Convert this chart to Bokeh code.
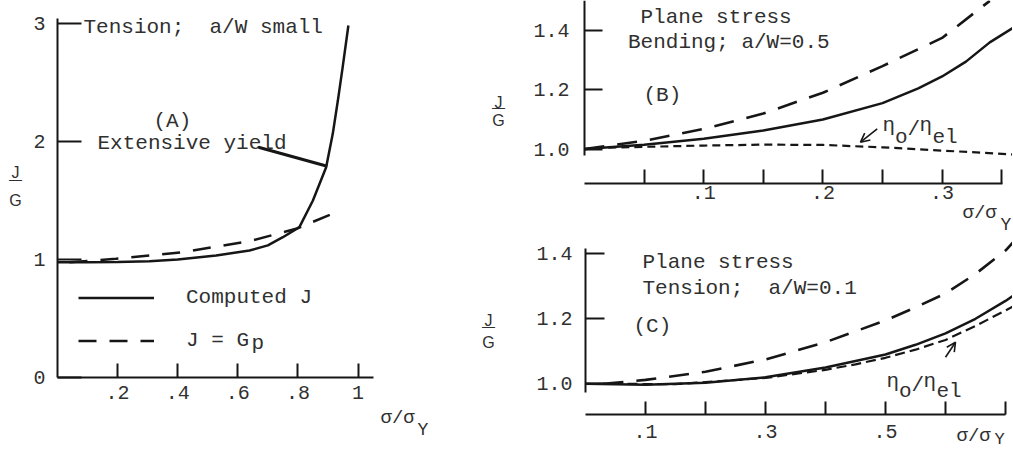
from bokeh.plotting import figure
from bokeh.layouts import row, column
from bokeh.models import Range1d, FixedTicker, Label, Arrow, OpenHead, Legend, LegendItem
from bokeh.embed import file_html
from bokeh.resources import INLINE

# ---------------- data ----------------
# (A) Tension; a/W small
a_solid_x = [0, 0.1, 0.2, 0.306, 0.4, 0.528, 0.639, 0.7, 0.75, 0.805, 0.85, 0.894, 0.916, 0.933, 0.949, 0.968]
a_solid_y = [0.977, 0.977, 0.978, 0.986, 1.0, 1.034, 1.076, 1.12, 1.189, 1.274, 1.50, 1.782, 2.065, 2.347, 2.63, 2.983]
a_gp_x = [0.04, 0.195, 0.417, 0.639, 0.794, 0.927]
a_gp_y = [0.977, 1.006, 1.062, 1.155, 1.26, 1.40]
a_x_ticks = [0.2, 0.4, 0.6, 0.8, 1.0]
a_x_labels = [".2", ".4", ".6", ".8", "1"]
a_y_ticks = [0, 1, 2, 3]
a_y_labels = ["0", "1", "2", "3"]

# (B) Plane stress, Bending; a/W=0.5
b_solid_x = [0, 0.05, 0.1, 0.15, 0.2, 0.25, 0.28, 0.3, 0.32, 0.34, 0.36]
b_solid_y = [1.0, 1.015, 1.035, 1.063, 1.10, 1.155, 1.205, 1.245, 1.295, 1.36, 1.41]
b_gp_x = [0, 0.05, 0.1, 0.15, 0.2, 0.25, 0.3, 0.34]
b_gp_y = [1.0, 1.028, 1.068, 1.12, 1.19, 1.28, 1.375, 1.50]
b_eta_x = [0.02, 0.1, 0.15, 0.2, 0.25, 0.3, 0.36]
b_eta_y = [1.005, 1.012, 1.015, 1.014, 1.006, 0.995, 0.982]
b_x_ticks = [0.05, 0.1, 0.15, 0.2, 0.25, 0.3, 0.35]
b_x_labels = ["", ".1", "", ".2", "", ".3", ""]
b_y_ticks = [1.0, 1.2, 1.4]
b_y_labels = ["1.0", "1.2", "1.4"]

# (C) Plane stress, Tension; a/W=0.1
c_solid_x = [0, 0.1, 0.2, 0.3, 0.4, 0.5, 0.55, 0.6, 0.65, 0.7, 0.72]
c_solid_y = [1.0, 0.997, 1.003, 1.02, 1.05, 1.09, 1.12, 1.155, 1.20, 1.255, 1.28]
c_gp_x = [0.03, 0.1, 0.2, 0.3, 0.4, 0.5, 0.55, 0.6, 0.65, 0.7, 0.72]
c_gp_y = [1.0, 1.012, 1.037, 1.075, 1.128, 1.195, 1.235, 1.278, 1.338, 1.41, 1.45]
c_eta_x = [0.02, 0.15, 0.3, 0.4, 0.45, 0.5, 0.55, 0.6, 0.65, 0.72]
c_eta_y = [1.0, 0.999, 1.018, 1.043, 1.06, 1.08, 1.105, 1.135, 1.178, 1.245]
c_x_ticks = [0.1, 0.2, 0.3, 0.4, 0.5, 0.6, 0.7]
c_x_labels = [".1", "", ".3", "", ".5", "", ""]
c_y_ticks = [1.0, 1.2, 1.4]
c_y_labels = ["1.0", "1.2", "1.4"]

# ---------------- style ----------------
INK = "#161616"
TXT = "#303030"
MONO = "Liberation Mono"
SANS = "Liberation Sans"
NB = "\u00a0"


class Panel:
    """A figure whose frame fills the whole canvas; axes are drawn at fixed data locations."""

    def __init__(self, cx, cy, width, height, sx0, xpu, sy_ref, y_ref, ypu):
        self.cx, self.cy = cx, cy
        self.xpu, self.ypu = xpu, ypu
        self.x_start = -(sx0 - cx) / xpu
        self.y_end = y_ref + (sy_ref - cy) / ypu
        x_end = self.x_start + width / xpu
        y_start = self.y_end - height / ypu
        p = figure(width=width, height=height, output_backend="svg", toolbar_location=None, tools="",
                   x_range=Range1d(self.x_start, x_end), y_range=Range1d(y_start, self.y_end),
                   min_border=0, min_border_left=0, min_border_right=0,
                   min_border_top=0, min_border_bottom=0)
        p.outline_line_color = None
        p.xgrid.visible = False
        p.ygrid.visible = False
        p.background_fill_color = "white"
        p.border_fill_color = "white"
        self.p = p

    def mx(self, sx):
        return self.x_start + (sx - self.cx) / self.xpu

    def my(self, sy):
        return self.y_end - (sy - self.cy) / self.ypu

    def axis(self, ax, ticks, labels, tick_in, standoff, bounds, fixed, size="20px"):
        ax.fixed_location = fixed
        ax.ticker = FixedTicker(ticks=ticks)
        ax.major_label_overrides = dict(zip(ticks, labels))
        ax.bounds = bounds
        ax.axis_line_color = INK
        ax.axis_line_width = 2
        ax.major_tick_line_color = INK
        ax.major_tick_line_width = 2
        ax.major_tick_in = tick_in
        ax.major_tick_out = 0
        ax.minor_tick_line_color = None
        ax.major_label_standoff = standoff
        ax.major_label_text_font = MONO
        ax.major_label_text_font_size = size
        ax.major_label_text_color = TXT

    def txt(self, sx, sy, text, size="21px", font=MONO, align="left", baseline="alphabetic"):
        self.p.add_layout(Label(x=self.mx(sx), y=self.my(sy), text=text, text_font=font,
                                text_font_size=size, text_color=TXT, text_align=align,
                                text_baseline=baseline))

    def arrow(self, x0, y0, x1, y1, width=1.6, head=True):
        end = OpenHead(size=9, line_width=width, line_color=INK) if head else None
        self.p.add_layout(Arrow(x_start=self.mx(x0), y_start=self.my(y0), x_end=self.mx(x1),
                                y_end=self.my(y1), end=end, line_color=INK, line_width=width))

    def jg(self, sx, sj, sbar, sg, size="16px"):
        self.txt(sx, sj, "J", size=size, font=SANS, align="center")
        self.txt(sx, sbar, "\u2014", size="13px", font=SANS, align="center", baseline="middle")
        self.txt(sx, sg, "G", size=size, font=SANS, align="center")

    def eta(self, sx, sy, dy_sub):
        self.txt(sx, sy, "\u03b7")
        self.txt(sx + 12.5, sy + dy_sub, "o")
        self.txt(sx + 25, sy + 4, "/")
        self.txt(sx + 37, sy, "\u03b7")
        self.txt(sx + 50, sy + dy_sub, "el")


# ---------------- panel A ----------------
A = Panel(0, 0, 476, 450, sx0=57, xpu=300.5, sy_ref=377, y_ref=0.0, ypu=118.0)
pA = A.p
rA1 = pA.line(a_solid_x, a_solid_y, line_color=INK, line_width=2.5)
rA2 = pA.line(a_gp_x, a_gp_y, line_color=INK, line_width=2.5, line_dash="18 13")
A.axis(pA.xaxis[0], a_x_ticks, a_x_labels, 14, 8, (0, 1.052), 0)
A.axis(pA.yaxis[0], a_y_ticks, a_y_labels, 24, 12, (0, 3.04), 0)

legA = Legend(items=[LegendItem(label="Computed J", renderers=[rA1]),
                     LegendItem(label="J = G", renderers=[rA2])],
              location=(78, 97), orientation="vertical", glyph_width=76, glyph_height=25,
              label_height=25, label_standoff=32, spacing=18, padding=0, margin=0,
              border_line_color=None, background_fill_alpha=0,
              label_text_font=MONO, label_text_font_size="21px", label_text_color=TXT)
pA.add_layout(legA)

A.txt(83, 27, "Tension;" + NB + " a/W small")
A.txt(153, 121, "(A)")
A.txt(97, 143, "Extensive yield")
A.txt(251, 343, "p")
A.txt(380, 417, "\u03c3/\u03c3", size="19px")
A.txt(417, 429, "Y", size="18px")
A.arrow(258, 146.7, 326.7, 165.7, width=3.2, head=False)
A.jg(15, 172, 178.5, 200)

# ---------------- panel B ----------------
B = Panel(476, 0, 536, 236, sx0=584, xpu=1192.0, sy_ref=148.6, y_ref=1.0, ypu=296.5)
pB = B.p
pB.line(b_solid_x, b_solid_y, line_color=INK, line_width=2.5)
pB.line(b_gp_x, b_gp_y, line_color=INK, line_width=2.6, line_dash="20 13")
pB.line(b_eta_x, b_eta_y, line_color=INK, line_width=2.2, line_dash="8 5")
B.axis(pB.xaxis[0], b_x_ticks, b_x_labels, 14, 2, (0, 0.351), B.my(183))
B.axis(pB.yaxis[0], b_y_ticks, b_y_labels, 18, 15, (B.my(155), B.my(0)), 0)

B.txt(640, 17, "Plane stress")
B.txt(627.5, 42, "Bending; a/W=0.5")
B.txt(643, 95, "(B)")
B.eta(882, 125, 12)
B.arrow(876.7, 128.3, 860, 141.7)
B.txt(962, 212, "\u03c3/\u03c3", size="19px")
B.txt(1000, 224, "Y", size="18px")
B.jg(498, 102, 106.5, 120)

# ---------------- panel C ----------------
C = Panel(476, 236, 536, 214, sx0=585, xpu=600.0, sy_ref=383.3, y_ref=1.0, ypu=325.0)
pC = C.p
pC.line(c_solid_x, c_solid_y, line_color=INK, line_width=2.5)
pC.line(c_gp_x, c_gp_y, line_color=INK, line_width=2.6, line_dash="20 13")
pC.line(c_eta_x, c_eta_y, line_color=INK, line_width=2.2, line_dash="10 5")
C.axis(pC.xaxis[0], c_x_ticks, c_x_labels, 13, 10, (0, 0.70), C.my(414))
C.axis(pC.yaxis[0], c_y_ticks, c_y_labels, 19, 13, (C.my(392), C.my(248)), 0)

C.txt(642, 262, "Plane stress")
C.txt(642, 288, "Tension;" + NB + " a/W=0.1")
C.txt(633, 326, "(C)")
C.eta(886, 381, 10)
C.arrow(945, 356.7, 955, 341.7)
C.txt(956, 435, "\u03c3/\u03c3", size="19px")
C.txt(994, 439, "Y", size="17px")
C.jg(488, 320, 325.5, 342)

layout = row(pA, column(pB, pC))
open("out.html", "w").write(file_html(layout, INLINE))
